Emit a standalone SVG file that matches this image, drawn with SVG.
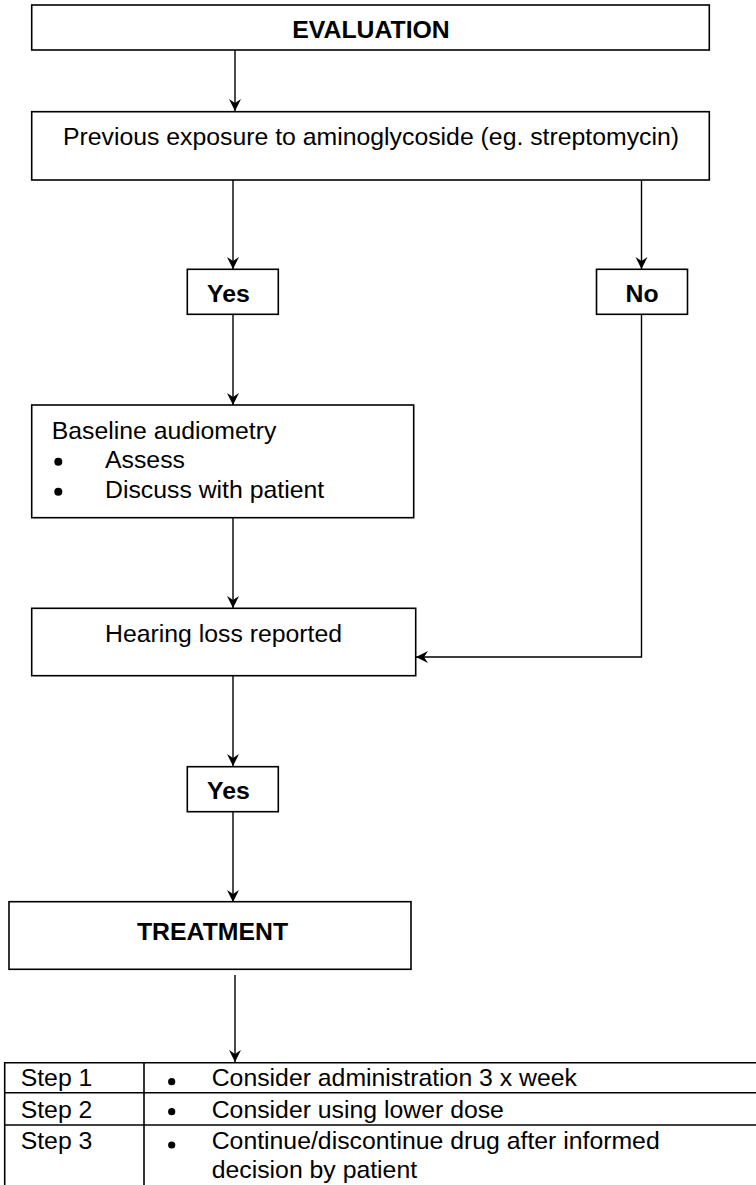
<svg xmlns="http://www.w3.org/2000/svg" width="756" height="1185" viewBox="0 0 756 1185">
<style>
.box{fill:#fff;stroke:#000;stroke-width:1.6}
.ln{fill:none;stroke:#000;stroke-width:1.4}
.t{font-family:"Liberation Sans",Arial,sans-serif;font-size:24.8px;fill:#000}
.b{font-weight:bold}
.m{text-anchor:middle}
.dot{fill:#000}
</style>
<defs>
<marker id="ah" viewBox="-13 -7 14 14" refX="0" refY="0" markerWidth="14" markerHeight="14" markerUnits="userSpaceOnUse" orient="auto">
<path d="M0,0 L-12,-6 L-8,0 L-12,6 Z" fill="#000"/>
</marker>
</defs>
<rect width="756" height="1185" fill="#fff"/>
<g id="connectors">
<line class="ln" x1="235" y1="50" x2="235" y2="111" marker-end="url(#ah)"/>
<line class="ln" x1="233" y1="180" x2="233" y2="269" marker-end="url(#ah)"/>
<line class="ln" x1="641.5" y1="180" x2="641.5" y2="269" marker-end="url(#ah)"/>
<line class="ln" x1="233" y1="314" x2="233" y2="405" marker-end="url(#ah)"/>
<line class="ln" x1="233" y1="518" x2="233" y2="608" marker-end="url(#ah)"/>
<polyline class="ln" points="641.5,314 641.5,657 416,657" marker-end="url(#ah)"/>
<line class="ln" x1="233" y1="676" x2="233" y2="766" marker-end="url(#ah)"/>
<line class="ln" x1="233" y1="812" x2="233" y2="902" marker-end="url(#ah)"/>
<line class="ln" x1="235" y1="975" x2="235" y2="1062" marker-end="url(#ah)"/>
</g>
<g id="evaluation">
<rect class="box" x="31.7" y="5" width="677.6" height="45"/>
<text class="t b m" x="371" y="38.3">EVALUATION</text>
</g>
<g id="exposure">
<rect class="box" x="31.7" y="111.7" width="677.6" height="68.3"/>
<text class="t m" x="371" y="145">Previous exposure to aminoglycoside (eg. streptomycin)</text>
</g>
<g id="yes1">
<rect class="box" x="187.3" y="269.3" width="91" height="45"/>
<text class="t b" x="207" y="302.3">Yes</text>
</g>
<g id="no">
<rect class="box" x="596.5" y="269.3" width="91" height="45"/>
<text class="t b m" x="642" y="302.3">No</text>
</g>
<g id="baseline">
<rect class="box" x="31.7" y="405" width="382" height="112.7"/>
<text class="t" x="51.7" y="438.7">Baseline audiometry</text>
<circle class="dot" cx="58.3" cy="461.7" r="4"/>
<text class="t" x="105" y="468">Assess</text>
<circle class="dot" cx="58.3" cy="491.7" r="4"/>
<text class="t" x="105" y="498.3">Discuss with patient</text>
</g>
<g id="hearing">
<rect class="box" x="31.7" y="608.3" width="384" height="67.4"/>
<text class="t" x="105" y="641.7">Hearing loss reported</text>
</g>
<g id="yes2">
<rect class="box" x="187.3" y="766.7" width="91" height="45"/>
<text class="t b" x="207" y="799">Yes</text>
</g>
<g id="treatment">
<rect class="box" x="9" y="901.7" width="402" height="67.6"/>
<text class="t b m" x="212.5" y="940">TREATMENT</text>
</g>
<g id="steps">
<g class="ln" style="stroke-width:1.6">
<line x1="4.7" y1="1062.7" x2="756" y2="1062.7"/>
<line x1="4.7" y1="1092.7" x2="756" y2="1092.7"/>
<line x1="4.7" y1="1125" x2="756" y2="1125"/>
<line x1="4.7" y1="1062" x2="4.7" y2="1185"/>
<line x1="144" y1="1062" x2="144" y2="1185"/>
</g>
<text class="t" x="20.7" y="1085.7">Step 1</text>
<text class="t" x="20.7" y="1117.7">Step 2</text>
<text class="t" x="20.7" y="1149">Step 3</text>
<circle class="dot" cx="171.7" cy="1081.7" r="3.6"/>
<circle class="dot" cx="171.7" cy="1111.7" r="3.6"/>
<circle class="dot" cx="171.7" cy="1145" r="3.6"/>
<text class="t" x="211.7" y="1085.7">Consider administration 3 x week</text>
<text class="t" x="211.7" y="1117.7">Consider using lower dose</text>
<text class="t" x="211.7" y="1149">Continue/discontinue drug after informed</text>
<text class="t" x="211.7" y="1178">decision by patient</text>
</g>
</svg>
